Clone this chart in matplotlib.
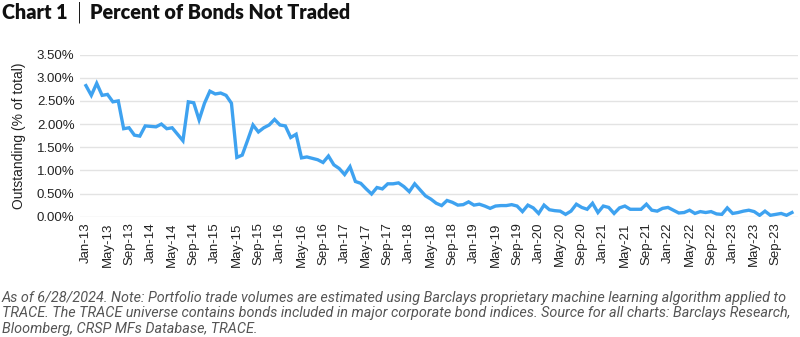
import matplotlib
matplotlib.use("Agg")
import matplotlib.pyplot as plt
import pandas as pd

# monthly share of bonds with no trades, % of outstanding
months = pd.period_range("2013-01", "2023-12", freq="M")
pct_not_traded = [
    2.83, 2.62, 2.88, 2.62, 2.64, 2.48, 2.50, 1.90, 1.92, 1.76, 1.74, 1.96,  # 2013
    1.95, 1.94, 2.00, 1.90, 1.92, 1.78, 1.64, 2.48, 2.46, 2.09, 2.45, 2.71,  # 2014
    2.65, 2.67, 2.62, 2.45, 1.28, 1.33, 1.65, 1.98, 1.83, 1.92, 1.98, 2.10,  # 2015
    1.98, 1.96, 1.71, 1.78, 1.27, 1.29, 1.26, 1.23, 1.17, 1.31, 1.12, 1.04,  # 2016
    0.91, 1.08, 0.76, 0.72, 0.60, 0.49, 0.63, 0.60, 0.71, 0.71, 0.73, 0.65,  # 2017
    0.54, 0.71, 0.58, 0.45, 0.38, 0.29, 0.24, 0.35, 0.31, 0.25, 0.26, 0.32,  # 2018
    0.25, 0.27, 0.23, 0.18, 0.23, 0.24, 0.24, 0.26, 0.23, 0.11, 0.25, 0.19,  # 2019
    0.07, 0.25, 0.15, 0.13, 0.12, 0.05, 0.12, 0.27, 0.20, 0.16, 0.29, 0.09,  # 2020
    0.23, 0.20, 0.07, 0.19, 0.23, 0.16, 0.16, 0.16, 0.27, 0.14, 0.12, 0.18,  # 2021
    0.20, 0.14, 0.08, 0.09, 0.14, 0.07, 0.11, 0.09, 0.11, 0.06, 0.05, 0.19,  # 2022
    0.07, 0.09, 0.12, 0.14, 0.11, 0.03, 0.12, 0.03, 0.05, 0.07, 0.03, 0.09,  # 2023
]
month_labels = [m.strftime("%b-%y") for m in months]
y_ticks = [0, 0.5, 1.0, 1.5, 2.0, 2.5, 3.0, 3.5]

chart_no = "Chart 1"
title_text = "Percent of Bonds Not Traded"
note_text = ("As of 6/28/2024. Note: Portfolio trade volumes are estimated using Barclays proprietary machine learning algorithm applied to\n"
             "TRACE. The TRACE universe contains bonds included in major corporate bond indices. Source for all charts: Barclays Research,\n"
             "Bloomberg, CRSP MFs Database, TRACE.")

plt.rcParams["font.family"] = ["Liberation Sans", "DejaVu Sans"]

fig = plt.figure(figsize=(8, 3.37), dpi=100)
ax = fig.add_axes([0.1, 0.357, 0.898, 0.481])

x = list(range(len(months)))
ax.plot(x, pct_not_traded, color="#3ea2f0", linewidth=2.4, solid_joinstyle="miter")

ax.set_ylim(0, 3.5)
ax.set_xlim(-1.1, len(months) + 0.2)
ax.set_yticks(y_ticks)
ax.set_yticklabels(["%.2f%%" % v for v in y_ticks], fontsize=9.5, color="#222222")
ax.set_xticks(x[::4])
ax.set_xticklabels(month_labels[::4], rotation=90, fontsize=9.5, color="#222222")
ax.tick_params(length=0, pad=4)
ax.yaxis.grid(True, color="#e3e3e3", linewidth=1)
ax.set_axisbelow(True)
for s in ax.spines.values():
    s.set_visible(False)
ax.set_ylabel("Outstanding (% of total)", fontsize=10, color="#222222", labelpad=8)

# title: chart number, thin divider, then the name
fig.text(0.002, 0.963, chart_no, fontsize=14.2, fontweight="heavy", family="Lato",
         va="center", ha="left", color="#111111")
fig.text(0.099, 0.963, "|", fontsize=15, family="DejaVu Sans", fontweight="light",
         va="center", ha="center", color="#111111")
fig.text(0.1125, 0.963, title_text, fontsize=14.2, fontweight="heavy", family="Lato",
         va="center", ha="left", color="#111111")

fig.text(0.002, 0.004, note_text, fontsize=10.4, style="italic", family="Roboto",
         color="#555555", va="bottom", ha="left", linespacing=1.14)

fig.savefig("out.png", dpi=100)
